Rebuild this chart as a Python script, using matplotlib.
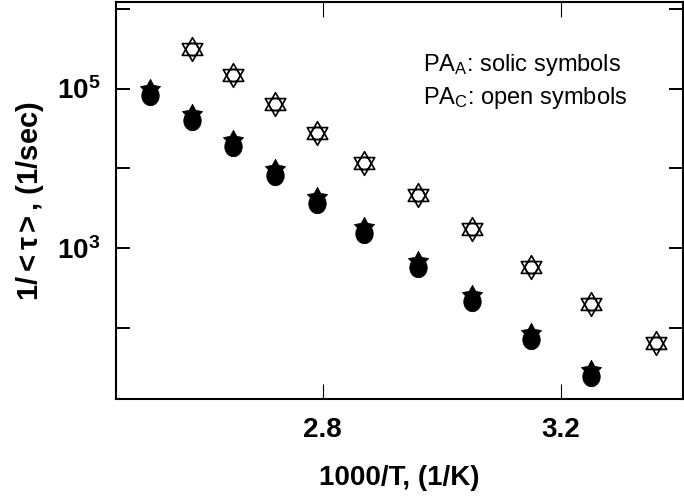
import numpy as np
import matplotlib
matplotlib.use('Agg')
import matplotlib.pyplot as plt
from matplotlib.path import Path
from matplotlib.ticker import FixedLocator, FixedFormatter, NullLocator

plt.rcParams['font.family'] = ['Liberation Sans', 'DejaVu Sans']
plt.rcParams['mathtext.fontset'] = 'custom'
plt.rcParams['mathtext.rm'] = 'Liberation Sans'
plt.rcParams['mathtext.bf'] = 'Liberation Sans:bold'
plt.rcParams['mathtext.it'] = 'Liberation Sans:italic'
plt.rcParams['mathtext.default'] = 'regular'

# 1000/T for PA_A (solid) and PA_C (open)
invT_A = [2.51, 2.58, 2.65, 2.72, 2.79, 2.87, 2.96, 3.05, 3.15, 3.25]
invT_C = [2.58, 2.65, 2.72, 2.79, 2.87, 2.96, 3.05, 3.15, 3.25, 3.36]
# relaxation rate 1/<tau> (1/sec)
rate_A = [9.1e4, 4.4e4, 2.06e4, 9.1e3, 4.0e3, 1.68e3, 625, 234, 79, 27]
rate_C = [3.1e5, 1.48e5, 6.4e4, 2.74e4, 1.15e4, 4.6e3, 1.73e3, 582, 200, 64]

ytick_vals = [1e1, 1e2, 1e3, 1e4, 1e5, 1e6]
ytick_labels = ['', '', r'$\mathbf{10^3}$', '', r'$\mathbf{10^5}$', '']
xtick_vals = [2.8, 3.2]
xtick_labels = ['2.8', '3.2']


def closed(pts):
    pts = list(pts) + [pts[0]]
    codes = [Path.MOVETO] + [Path.LINETO] * (len(pts) - 2) + [Path.CLOSEPOLY]
    return Path(pts, codes)


# open symbol: up and down triangles on top of each other
up = closed([(0, 1), (-0.866, -0.5), (0.866, -0.5)])
dn = closed([(0, -1), (-0.866, 0.5), (0.866, 0.5)])
hexagram = Path.make_compound_path(up, dn)

# solid symbol: star sitting on a rounded body (both drawn counter-clockwise)
ang = np.pi / 2 + np.arange(10) * np.pi / 5
rad = np.where(np.arange(10) % 2 == 0, 0.8, 0.42)
star_top = closed(list(zip(rad * np.cos(ang), 0.2 + rad * np.sin(ang))))
t = np.linspace(0, 2 * np.pi, 40, endpoint=False)
body = closed(list(zip(0.66 * np.cos(t), -0.25 + 0.75 * np.sin(t))))
blob = Path.make_compound_path(star_top, body)

fig = plt.figure(figsize=(6.84, 4.97), dpi=100)
ax = fig.add_axes([0.1689, 0.1972, 0.8297, 0.7982])

# solid symbols
ax.plot(invT_A, rate_A, ls='none', marker=blob, ms=19, mfc='k', mec='k', mew=0.6)
# open symbols
ax.plot(invT_C, rate_C, ls='none', marker=hexagram, ms=17, mfc='white', mec='k', mew=1.2)
ax.plot(invT_C, rate_C, ls='none', marker='o', ms=9, mfc='none', mec='k', mew=1.0)

ax.set_yscale('log')
ax.set_xlim(2.452, 3.405)
ax.set_ylim(10**1.107, 10**6.081)

ax.yaxis.set_major_locator(FixedLocator(ytick_vals))
ax.yaxis.set_major_formatter(FixedFormatter(ytick_labels))
ax.yaxis.set_minor_locator(NullLocator())
ax.set_xticks(xtick_vals)
ax.set_xticklabels(xtick_labels, fontweight='bold')
ax.xaxis.set_minor_locator(NullLocator())

ax.tick_params(axis='y', which='major', direction='in', length=10, width=1.4,
               left=True, right=True, labelsize=20, pad=11)
ax.tick_params(axis='x', which='major', direction='in', length=11, width=0.8,
               bottom=True, top=True, labelsize=20, pad=13)
for sp in ax.spines.values():
    sp.set_linewidth(1.5)

ax.set_xlabel('1000/T, (1/K)', fontsize=20, fontweight='bold', labelpad=16)
ax.set_ylabel(r'1/$<\tau>$, (1/sec)', fontsize=21, fontweight='bold', labelpad=8)

ax.text(0.542, 0.842, r'PA$_{A}$: solic symbols', transform=ax.transAxes,
        fontsize=17, va='center', ha='left')
ax.text(0.542, 0.759, r'PA$_{C}$: open symbols', transform=ax.transAxes,
        fontsize=17, va='center', ha='left')

fig.savefig('out.png', dpi=100)
